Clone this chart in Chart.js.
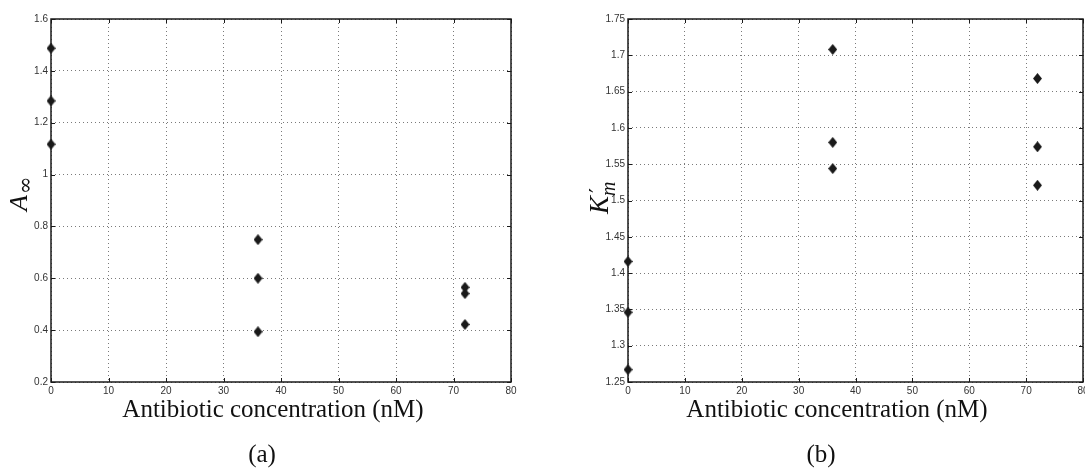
<!DOCTYPE html>
<html>
<head>
<meta charset="utf-8">
<script src="https://cdn.jsdelivr.net/npm/chart.js@4/dist/chart.umd.min.js"></script>
<style>
  html, body { margin: 0; padding: 0; background: #fff; }
  #wrap { position: relative; width: 1085px; height: 468px; overflow: hidden; }
  canvas { position: absolute; top: 0; }
  #cA { left: 0; }
  #cB { left: 542px; }
</style>
</head>
<body>
<div id="wrap">
  <canvas id="cA" width="542" height="468"></canvas>
  <canvas id="cB" width="560" height="468"></canvas>
</div>
<script>
// Antibiotic concentrations (nM), three replicates per level
const concentration = [0, 0, 0, 36, 36, 36, 72, 72, 72];
// Panel (a): asymptotic value A_inf
const aInfinity = [1.487, 1.284, 1.117, 0.749, 0.600, 0.394, 0.565, 0.541, 0.422];
// Panel (b): K'_m
const kPrimeM = [1.416, 1.346, 1.267, 1.708, 1.580, 1.544, 1.668, 1.574, 1.521];

// Tick values and their printed labels
const xTickValues = [0, 10, 20, 30, 40, 50, 60, 70, 80];
const xTickLabels = ['0', '10', '20', '30', '40', '50', '60', '70', '80'];
const yTickValuesA = [0.2, 0.4, 0.6, 0.8, 1.0, 1.2, 1.4, 1.6];
const yTickLabelsA = ['0.2', '0.4', '0.6', '0.8', '1', '1.2', '1.4', '1.6'];
const yTickValuesB = [1.25, 1.3, 1.35, 1.4, 1.45, 1.5, 1.55, 1.6, 1.65, 1.7, 1.75];
const yTickLabelsB = ['1.25', '1.3', '1.35', '1.4', '1.45', '1.5', '1.55', '1.6', '1.65', '1.7', '1.75'];

const xTitle = 'Antibiotic concentration (nM)';

// Filled diamond marker
function diamondMarker() {
  const c = document.createElement('canvas');
  c.width = 9; c.height = 11;
  const g = c.getContext('2d');
  g.fillStyle = '#1a1a1a';
  g.beginPath();
  g.moveTo(4.5, 0); g.lineTo(9, 5.5); g.lineTo(4.5, 11); g.lineTo(0, 5.5);
  g.closePath(); g.fill();
  return c;
}
const marker = diamondMarker();

// Box around the plot area plus inward tick marks on all four sides
const boxPlugin = {
  id: 'boxTicks',
  afterDatasetsDraw(chart) {
    const { ctx, chartArea: a, scales } = chart;
    ctx.save();
    ctx.strokeStyle = '#1a1a1a';
    ctx.lineWidth = 1;
    const len = 4;
    ctx.beginPath();
    scales.x.ticks.forEach(t => {
      const px = Math.round(scales.x.getPixelForValue(t.value)) + 0.5;
      ctx.moveTo(px, a.bottom); ctx.lineTo(px, a.bottom - len);
      ctx.moveTo(px, a.top); ctx.lineTo(px, a.top + len);
    });
    scales.y.ticks.forEach(t => {
      const py = Math.round(scales.y.getPixelForValue(t.value)) + 0.5;
      ctx.moveTo(a.left, py); ctx.lineTo(a.left + len, py);
      ctx.moveTo(a.right, py); ctx.lineTo(a.right - len, py);
    });
    ctx.stroke();
    ctx.lineWidth = 1.5;
    ctx.strokeRect(a.left, a.top, a.right - a.left, a.bottom - a.top);
    ctx.restore();
  }
};

// Serif axis title, panel caption and the rotated y label
const labelPlugin = {
  id: 'serifLabels',
  afterDraw(chart, args, opts) {
    const ctx = chart.ctx;
    ctx.save();
    ctx.fillStyle = '#111';
    ctx.textBaseline = 'alphabetic';
    ctx.textAlign = 'center';
    ctx.font = '25px "Liberation Serif"';
    ctx.fillText(xTitle, opts.titleX, 417);
    ctx.fillText(opts.caption, opts.captionX, 462);
    opts.drawYLabel(ctx);
    ctx.restore();
  }
};

function yLabelA(ctx) {
  ctx.translate(27, 211);
  ctx.rotate(-Math.PI / 2);
  ctx.textAlign = 'left';
  ctx.font = 'italic 26px "Liberation Serif"';
  ctx.fillText('A', 0, 0);
  const w = ctx.measureText('A').width;
  ctx.font = '21px "DejaVu Serif"';
  ctx.fillText('∞', w + 1, 5);
}

function yLabelB(ctx) {
  ctx.translate(66, 214);
  ctx.rotate(-Math.PI / 2);
  ctx.textAlign = 'left';
  ctx.font = 'italic 27px "Liberation Serif"';
  ctx.fillText('K', 0, 0);
  const w = ctx.measureText('K').width;
  ctx.font = '22px "DejaVu Serif"';
  ctx.fillText('′', w + 3, -3);
  ctx.font = 'italic 20px "Liberation Serif"';
  ctx.fillText('m', w, 7);
}

function makeChart(id, values, yVals, yLabels, pad, yWidth, labelOpts) {
  const points = concentration.map((c, i) => ({ x: c, y: values[i] }));
  return new Chart(document.getElementById(id), {
    type: 'scatter',
    data: {
      datasets: [{
        data: points,
        pointStyle: marker,
        pointRadius: 5,
        clip: false
      }]
    },
    options: {
      responsive: false,
      animation: false,
      events: [],
      layout: { padding: pad },
      plugins: {
        legend: { display: false },
        tooltip: { enabled: false },
        serifLabels: labelOpts
      },
      scales: {
        x: {
          type: 'linear',
          min: xTickValues[0],
          max: xTickValues[xTickValues.length - 1],
          afterBuildTicks: s => { s.ticks = xTickValues.map(v => ({ value: v })); },
          afterFit: s => { s.height = 86; },
          grid: { color: '#7a7a7a', lineWidth: 1, drawTicks: false },
          border: { display: false, dash: [1, 3] },
          ticks: {
            autoSkip: false, maxRotation: 0, padding: 3,
            color: '#333', font: { family: 'Liberation Sans', size: 10 },
            callback: (v, i) => xTickLabels[i]
          }
        },
        y: {
          type: 'linear',
          min: yVals[0],
          max: yVals[yVals.length - 1],
          afterBuildTicks: s => { s.ticks = yVals.map(v => ({ value: v })); },
          afterFit: s => { s.width = yWidth; },
          grid: { color: '#7a7a7a', lineWidth: 1, drawTicks: false },
          border: { display: false, dash: [1, 3] },
          ticks: {
            autoSkip: false, padding: 3,
            color: '#333', font: { family: 'Liberation Sans', size: 10 },
            callback: (v, i) => yLabels[i]
          }
        }
      }
    },
    plugins: [boxPlugin, labelPlugin]
  });
}

makeChart('cA', aInfinity, yTickValuesA, yTickLabelsA,
  { left: 0, top: 19, right: 31, bottom: 0 }, 51,
  { titleX: 273, caption: '(a)', captionX: 262, drawYLabel: yLabelA });

makeChart('cB', kPrimeM, yTickValuesB, yTickLabelsB,
  { left: 0, top: 19, right: 19, bottom: 0 }, 86,
  { titleX: 295, caption: '(b)', captionX: 279, drawYLabel: yLabelB });
</script>
</body>
</html>
